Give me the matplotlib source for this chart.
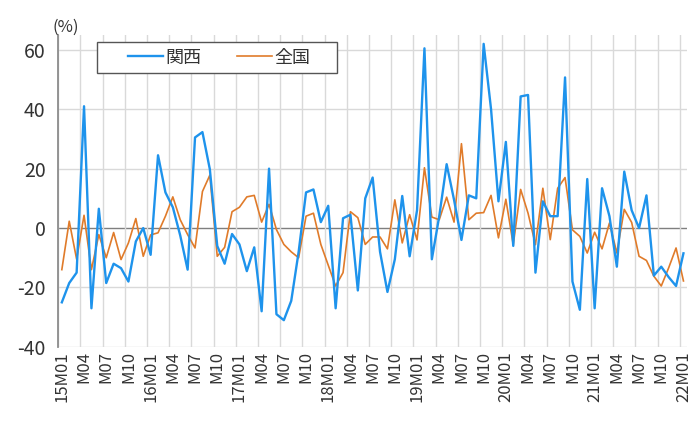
"""Kansai vs. nationwide monthly change (%), 2015M01-2022M01."""
import matplotlib
matplotlib.use("Agg")
import matplotlib.pyplot as plt
from matplotlib.patches import Rectangle
import numpy as np

plt.rcParams["font.family"] = ["Noto Sans CJK JP", "DejaVu Sans"]
plt.rcParams["axes.unicode_minus"] = False

# monthly values, 2015M01 .. 2022M01 (85 months)
KANSAI = [
    -25, -18.5, -15, 41, -27, 6.5, -18.5, -12, -13.5, -18, -4.5, 0,
    -9, 24.5, 12, 7, -2.5, -14, 30.5, 32.3, 19.8, -6, -12, -2,
    -5.5, -14.5, -6.5, -28, 20, -29, -31, -24.5, -8, 12, 13, 2,
    7.5, -27, 3.3, 4.5, -21, 10, 17, -8, -21.5, -10.5, 10.8, -9.5,
    6, 60.5, -10.5, 4, 21.5, 9.5, -4, 11, 10, 62, 40, 9,
    29, -6, 44.3, 44.8, -15, 9, 4, 4, 50.7, -18, -27.5, 16.5,
    -27, 13.4, 4, -13, 19, 6, 0, 11, -16, -13, -16.5, -19.5,
    -8.5,
]
ZENKOKU = [
    -14, 2.3, -10.5, 4.3, -14, -2.2, -10, -1.5, -10.6, -5, 3.2, -9.5,
    -2.3, -1.6, 4, 10.5, 2.8, -2.2, -6.7, 12.3, 17.8, -9.5, -6.5, 5.5,
    7, 10.5, 11, 2, 8, -0.5, -5.5, -8, -10, 4, 5, -5.5,
    -12.5, -19.5, -15, 5.5, 3.5, -5.5, -3, -3, -7, 9.5, -5, 4.5,
    -4, 20.3, 3.7, 2.8, 10.4, 2, 28.4, 2.8, 5, 5.2, 11, -3.3,
    9.7, -5.6, 13, 5, -5.6, 13.4, -3.9, 13.4, 17, -0.6, -2.8, -8.4,
    -1.4, -7, 1.7, -8.4, 6.3, 1.9, -9.5, -10.9, -16.2, -19.5, -13.4, -6.7,
    -17.8,
]
TICK_LABELS = [
    "15M01", "M04", "M07", "M10",
    "16M01", "M04", "M07", "M10",
    "17M01", "M04", "M07", "M10",
    "18M01", "M04", "M07", "M10",
    "19M01", "M04", "M07", "M10",
    "20M01", "M04", "M07", "M10",
    "21M01", "M04", "M07", "M10",
    "22M01",
]

BLUE = "#1E93EC"
ORANGE = "#E07B2A"
W, H = 692, 421

fig = plt.figure(figsize=(W / 100, H / 100), dpi=100)
ax = fig.add_axes([0.084, 0.176, 0.909, 0.741])

x = np.arange(len(KANSAI))
ax.plot(x, KANSAI, color=BLUE, lw=1.7, label="関西", zorder=3)
ax.plot(x, ZENKOKU, color=ORANGE, lw=1.2, label="全国", zorder=2)
ax.axhline(0, color="#7F7F7F", lw=1.0, zorder=1)

ax.set_xlim(-0.5, len(KANSAI) - 0.5)
ax.set_ylim(-40, 65)
ax.set_yticks([-40, -20, 0, 20, 40, 60])
ax.set_xticks(np.arange(0, len(KANSAI), 3))
ax.set_xticklabels(TICK_LABELS, rotation=90)
ax.set_xticks(np.arange(-0.5, len(KANSAI), 3), minor=True)

ax.grid(False)
ax.grid(axis="x", which="minor", color="#D9D9D9", lw=1.0)
for yv in [-40, -20, 20, 40, 60]:
    ax.axhline(yv, color="#D9D9D9", lw=1.0, zorder=0)

ax.tick_params(axis="x", which="both", length=0, labelsize=12,
               colors="#333333", pad=3)
ax.tick_params(axis="y", length=0, labelsize=14, colors="#333333", pad=9)

for s in ["top", "right", "bottom"]:
    ax.spines[s].set_visible(False)
ax.spines["left"].set_color("#8C8C8C")
ax.spines["left"].set_linewidth(1.3)

fig.text(52 / W, 1 - 32 / H, "(%)", fontsize=12, color="#333333")

# legend box drawn separately so the wide side padding matches
fig.patches.append(Rectangle((97 / W, 1 - 73 / H), 240 / W, 31 / H,
                             transform=fig.transFigure, facecolor="white",
                             edgecolor="#555555", lw=1.0, zorder=5))
leg = fig.legend(*ax.get_legend_handles_labels(), loc="center left",
                 bbox_to_anchor=(128 / W, 1 - 57.5 / H), ncol=2,
                 fontsize=13, frameon=False,
                 handlelength=1.95, handletextpad=0.1, columnspacing=2.0,
                 borderpad=0, borderaxespad=0)
leg.set_zorder(6)
for t in leg.get_texts():
    t.set_color("#333333")

fig.savefig("out.png", dpi=100)
